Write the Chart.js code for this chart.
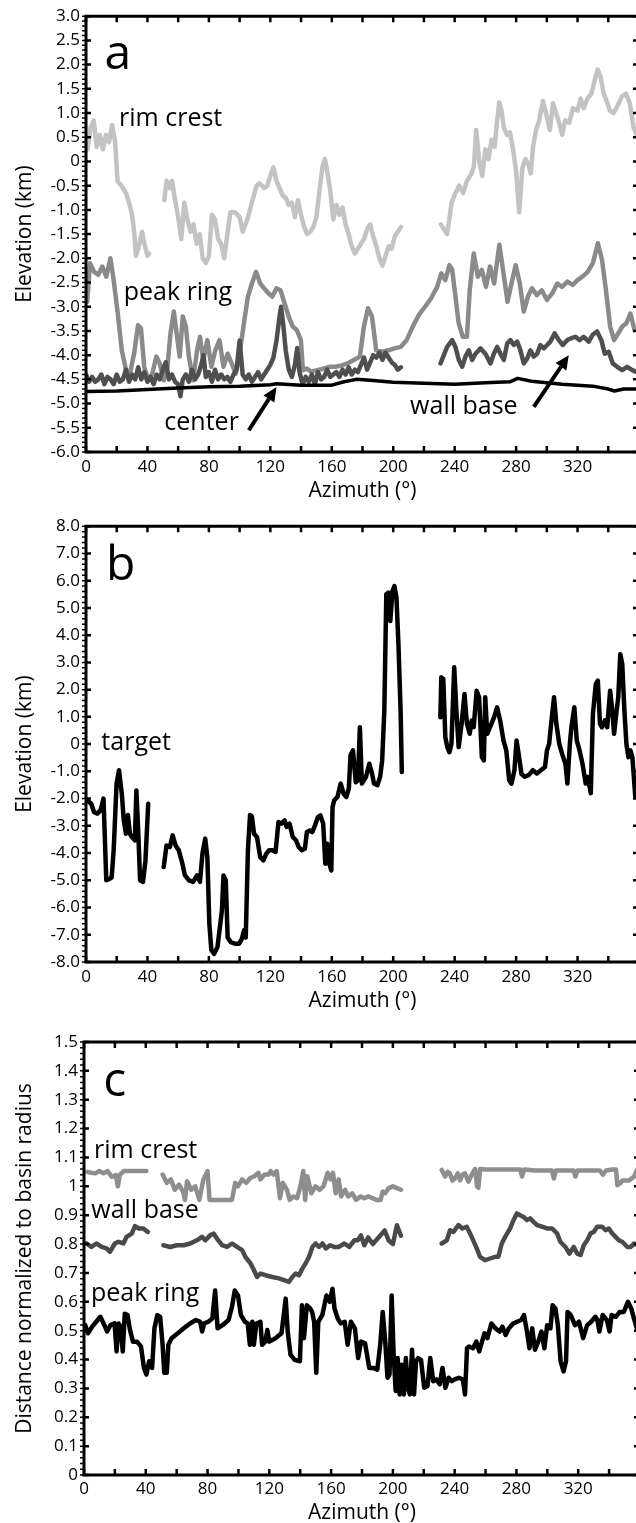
<!DOCTYPE html>
<html>
<head>
<meta charset="utf-8">
<script src="https://cdn.jsdelivr.net/npm/chart.js@4.4.1/dist/chart.umd.min.js"></script>
<style>
  html, body { margin: 0; padding: 0; background: #fff; overflow: hidden; width: 636px; height: 1523px; }
  canvas { position: absolute; left: 0; }
</style>
</head>
<body>
<canvas id="chartA" style="top:0" width="644" height="510"></canvas>
<canvas id="chartB" style="top:510px" width="644" height="510"></canvas>
<canvas id="chartC" style="top:1020px" width="644" height="510"></canvas>
<script>
// ---- panel a : elevation along the rings (km) ----
const rimAzA = [0,1,3,5,7,9,11,13,15,17,19,20.5,23,26,28,30,31.5,32.5,34,36.5,38,40,41,45,
  51,52.5,54.5,56,58,60,62,64,66,68,70,72,74,76,78,80,82,84,86,88,90,92,94,97,100,102,105,108,111,113,116,118,120,122,124,126,128,130,132,134,136,138,140,142,144,146,148,150,152,154,155.5,157,159,161,163,165,167,169,171,173,175,177,179,181,183,185,187,189,191,193,195,197,199,201,203,205,218,
  231,233,235,236.5,238,240.5,243,245.5,248,251,252.5,254,256,258,260,262,264,266,267.5,269,270.5,272,274,276,278,280,282,284,286,288,289.5,291,293,295,297.5,299,300.5,302,304,306,308,310,312,314.5,317,320,322,324,326.5,329,331,333,335,337,339.5,341,343.5,346,349,351.5,354,356.5,358.5];
const rimElevA = [0.5,0.25,0.7,0.85,0.3,0.55,0.25,0.55,0.4,0.75,0.4,-0.4,-0.5,-0.65,-0.85,-1.1,-1.5,-1.95,-1.8,-1.45,-1.7,-1.95,-1.9,null,
  -0.8,-0.4,-0.55,-0.4,-0.8,-1.15,-1.6,-0.85,-1.2,-1.45,-1.3,-1.7,-1.5,-2.0,-2.1,-1.95,-1.1,-1.2,-1.6,-1.7,-2.0,-1.5,-1.05,-1.05,-1.15,-1.45,-1.2,-0.85,-0.5,-0.45,-0.55,-0.5,-0.3,-0.12,-0.4,-0.55,-0.7,-0.75,-0.9,-0.85,-1.15,-0.8,-1.1,-1.35,-1.5,-1.45,-1.35,-1.15,-0.6,-0.1,0.05,-0.2,-0.6,-1.2,-0.9,-1.1,-0.95,-1.3,-1.5,-1.75,-1.9,-1.8,-1.7,-1.6,-1.4,-1.3,-1.55,-1.75,-2.0,-2.15,-1.95,-1.75,-1.8,-1.55,-1.45,-1.35,null,
  -1.3,-1.4,-1.5,-1.2,-0.85,-0.65,-0.5,-0.65,-0.4,-0.25,-0.1,0.65,0.0,-0.3,0.25,0.05,0.45,0.3,0.8,1.22,1.05,0.7,0.55,0.6,0.25,-0.2,-1.05,-0.15,0.05,-0.05,-0.25,0.3,0.65,0.85,1.25,1.05,0.85,0.65,1.2,1.0,0.8,0.55,0.85,0.8,1.1,1.05,1.3,1.1,1.3,1.4,1.65,1.9,1.75,1.4,1.2,1.05,1.0,1.15,1.35,1.4,1.2,0.7,0.55];

const peakAzA = [0.8,2.6,5.3,8,10.6,13.2,15.9,18,20.7,23.3,26,28.6,31.3,33.9,35.8,37.9,40.5,43.2,45.8,48,50.6,53,55,57.2,59,61,63,65,67,69.7,72.3,74.2,76.3,79,81.6,84.2,86.9,89.5,92.2,94.8,97.5,100,102.8,105.4,108,110.7,113.4,116,118.7,121.3,124,126.6,129.3,131.9,134.6,137.2,139.9,141.2,143.8,146.5,150.5,154.4,158.4,162.4,166.4,170.3,174.3,178.3,180.9,183.6,186.2,188.9,192.8,196.8,200.8,204.8,208.7,212.7,216.7,220.7,224.6,228.6,231.3,233.9,236.6,238.4,240.5,242.6,245.3,248,249.8,252.4,255.1,257.7,260.4,263,265.7,269.1,271.8,274.4,277,279.7,282.4,285,287.7,290.3,293.5,296.7,300.1,303.6,306.8,309.9,313.4,316.8,320,323.2,326.6,330,333.2,335.9,338.5,341.2,343.8,346.5,349.1,351.8,354.4,357.1];
const peakElevA = [-2.9,-2.1,-2.28,-2.34,-2.17,-2.38,-2.0,-2.45,-3.14,-3.9,-4.3,-4.38,-3.97,-3.38,-3.45,-4.24,-4.52,-4.38,-4.03,-4.17,-4.52,-4.24,-3.55,-3.1,-3.55,-4.03,-3.2,-3.41,-4.03,-4.52,-3.9,-3.62,-4.1,-3.69,-4.24,-3.9,-3.69,-4.24,-3.97,-4.17,-4.38,-3.97,-3.34,-2.79,-2.52,-2.28,-2.52,-2.62,-2.72,-2.79,-2.62,-2.66,-2.93,-3.2,-3.41,-3.48,-3.69,-4.31,-4.28,-4.34,-4.31,-4.28,-4.24,-4.24,-4.21,-4.17,-4.1,-4.03,-3.41,-3.03,-3.2,-3.9,-3.93,-3.9,-3.86,-3.83,-3.69,-3.41,-3.17,-3.0,-2.83,-2.59,-2.31,-2.45,-2.14,-2.24,-2.79,-3.34,-3.62,-3.62,-2.66,-1.9,-2.38,-2.24,-2.59,-2.17,-2.52,-1.72,-2.31,-2.9,-2.52,-2.14,-2.52,-3.1,-2.79,-2.62,-2.76,-2.66,-2.86,-2.72,-2.52,-2.59,-2.48,-2.55,-2.45,-2.38,-2.28,-2.1,-1.69,-2.03,-2.66,-3.41,-3.69,-3.55,-3.41,-3.34,-3.14,-3.48];

const wallAzA = [0,2,4,6,8,10,12,14,16,18,20,22,24,26,28,30,32,34,36,38,40,42,44,46,48,50,52,54,56,58,60,61.5,63,65,67,69,71,73,75,76.5,78,80,82,84,86,88,90,92,94,96,98,100,102,104,106,108,110,112,114,116,118,120,122,124,126,127,128.5,130,132,134,136,137.5,139,141,143,145,147,149,151,153,155,157,159,161,163,165,167,169,171,173,175,177,179,181,183,185,187,189,191,193,195,197,199,201,203,205,218,
  230.8,235.1,238.4,240.5,242.7,244.9,247,249.2,251.4,253.6,256.8,260,263.3,265.5,267.7,269.8,272,274.2,276.3,278.5,280.7,282.8,285,287.2,289.3,291.5,293.7,295.8,298,300.2,302.3,305.1,307.8,310.4,313.2,316,318.6,321.2,324,327.3,329.8,332.7,335.5,337.7,340.3,342.9,345.8,349,352.3,355.6,357.7];
const wallElevA = [-4.4,-4.55,-4.45,-4.55,-4.5,-4.4,-4.6,-4.45,-4.5,-4.6,-4.4,-4.55,-4.5,-4.3,-4.55,-4.4,-4.5,-4.25,-4.5,-4.35,-4.55,-4.45,-4.6,-4.4,-4.5,-4.3,-4.15,-4.5,-4.4,-4.55,-4.6,-4.85,-4.5,-4.4,-4.55,-4.3,-4.5,-4.4,-4.2,-4.0,-4.45,-4.35,-4.55,-4.3,-4.5,-4.4,-4.5,-4.45,-4.55,-4.4,-4.3,-3.7,-4.4,-4.5,-4.4,-4.55,-4.45,-4.35,-4.5,-4.4,-4.3,-4.2,-4.05,-3.7,-3.2,-3.0,-3.4,-3.9,-4.3,-4.45,-4.2,-3.85,-4.35,-4.6,-4.45,-4.55,-4.4,-4.6,-4.35,-4.5,-4.45,-4.3,-4.45,-4.4,-4.35,-4.45,-4.3,-4.4,-4.25,-4.4,-4.3,-4.35,-4.2,-4.05,-4.3,-4.15,-4.0,-4.05,-3.95,-4.1,-3.95,-4.05,-4.15,-4.2,-4.3,-4.25,null,
  -4.17,-3.83,-3.69,-3.83,-4.1,-4.24,-4.03,-3.9,-4.1,-3.97,-3.86,-3.97,-4.17,-3.97,-3.83,-3.97,-4.1,-3.76,-3.69,-3.79,-3.72,-3.9,-4.17,-4.07,-3.9,-4.03,-3.97,-3.79,-3.86,-3.79,-3.72,-3.55,-3.69,-3.79,-3.69,-3.65,-3.62,-3.69,-3.62,-3.72,-3.58,-3.51,-3.69,-3.97,-3.93,-4.17,-4.24,-4.31,-4.24,-4.31,-4.34];

const centerAzA = [0,20,40,60,80,100,120,124,140,160,168,176,185,200,220,240,260,276,281,290,310,330,340,344,350,358];
const centerElevA = [-4.75,-4.74,-4.71,-4.68,-4.65,-4.64,-4.61,-4.59,-4.62,-4.62,-4.55,-4.5,-4.52,-4.56,-4.58,-4.6,-4.57,-4.55,-4.48,-4.54,-4.6,-4.64,-4.7,-4.74,-4.7,-4.7];

// ---- panel b : target elevation (km) ----
const targetAzB = [0.8,3.4,5.3,7.4,9.5,11.4,13.2,15.4,16.7,18,19.9,21.5,23.3,24.6,26,27.3,28.6,29.9,31.8,32.8,34,35.2,37.1,38.7,40.5,45,
  50.6,52.4,54.6,56.4,58.3,60.4,62.5,64.4,67,69.7,72.3,74.2,75.8,77.6,79,80.3,81.6,83.4,85.6,86.9,88.5,89.5,91,92.2,94.3,97,99.6,101.5,102.8,104,105.4,106.8,108,109.4,111.3,113.4,115.5,117.4,119.2,121.3,123.4,125.3,127.2,129.3,130.6,132.5,134.6,136.7,138.5,140.4,142.5,143.8,145.7,147.3,149.1,151,152.6,154.4,155.8,157,158.4,159.7,160.5,161.6,163.7,165.8,167.7,169.5,171.1,172.2,173.8,175.6,177,178.3,179.6,182.3,184.4,186.2,187.5,189.7,191.5,192.8,194.2,195.5,196.8,198.1,199.5,200.8,202.1,203.4,204.8,205.6,218,
  230.7,231.3,232.6,233.9,235.2,236.6,237.9,239.7,241,242.6,244.5,246.4,248,249.8,251.1,252.4,254.3,255.9,257.7,259,259.9,261.2,263,265.7,267.6,269.6,271.8,273.6,275.5,277,278.9,280.3,281.6,283.5,285.6,288.2,290.9,293.5,296.1,298.8,300.1,301.5,302.8,304.7,306.2,308.1,309.9,312.1,313.4,315,316,317.9,319.5,321.3,323.2,325.3,326.6,328.6,330,331.9,333.2,334.6,335.9,337.8,339.3,341.2,342.6,343.8,345.2,346.5,347.8,349.1,350.5,351.8,353.1,354.4,355.7,357.6];
const targetElevB = [-2.06,-2.19,-2.5,-2.55,-2.43,-2.0,-5.0,-4.94,-4.9,-3.9,-1.45,-0.96,-1.82,-2.8,-3.29,-2.6,-3.29,-3.41,-3.53,-1.7,-3.2,-5.0,-5.06,-4.27,-2.19,null,
  -4.51,-3.72,-3.78,-3.35,-3.72,-3.9,-4.33,-4.82,-5.0,-5.06,-4.82,-5.06,-4.02,-3.47,-4.15,-6.6,-7.56,-7.7,-7.45,-6.84,-6.1,-4.82,-5.0,-7.1,-7.27,-7.33,-7.33,-7.15,-6.84,-7.1,-3.9,-2.6,-2.66,-3.29,-3.41,-4.15,-4.27,-4.02,-3.9,-3.9,-3.96,-2.86,-2.92,-2.8,-3.04,-2.92,-3.41,-3.53,-3.78,-3.9,-3.84,-3.23,-3.17,-3.23,-2.98,-2.68,-2.62,-2.92,-4.39,-3.66,-4.39,-4.64,-2.31,-2.06,-1.94,-1.45,-1.82,-1.94,-1.63,-0.41,-0.23,-1.4,-1.33,0.62,-1.45,-1.2,-0.72,-1.08,-1.45,-1.51,-1.2,-0.6,1.23,5.5,5.56,4.52,5.62,5.8,5.38,3.67,1.23,-1.02,null,
  0.99,2.45,2.39,0.26,-0.11,-0.3,0.01,2.82,1.35,-0.11,0.74,1.84,0.74,0.38,0.87,0.62,1.96,1.72,-0.48,-0.6,1.72,0.38,0.62,0.99,1.35,0.87,0.13,-0.23,-1.33,-1.45,-0.96,0.13,-0.35,-1.1,-1.2,-1.14,-0.96,-1.08,-0.96,-0.84,-0.23,0.01,0.74,1.72,0.74,0.01,-0.35,-0.72,-1.45,0.01,0.62,1.35,0.13,-0.23,-0.72,-1.45,-1.2,-1.8,1.11,2.21,2.33,0.74,0.62,0.87,0.62,1.96,1.23,0.38,1.11,1.72,3.3,2.94,1.23,0.01,-0.48,-0.23,-0.48,-1.94];

// ---- panel c : distance normalized to basin radius ----
const rimAzC = [2.1,4.7,7.4,10,12.7,15.3,17.9,20.6,21.9,23.2,25.9,32.4,40.4,45,
  50.9,53.6,56.2,58.8,61.5,64.1,65.4,66.7,69.4,72,74.7,77.3,80,81.3,83.9,87.8,91.8,95.8,97.9,99.7,102.4,105,107.6,110.3,112.9,114.2,116.9,119.5,120.8,122.7,124.8,126.9,128.7,131.4,133.2,135.5,138,140.1,142,143.2,144.6,147.2,149.8,152.5,155.1,157.8,159.6,161.2,163,164.9,166.5,169.1,171,173.6,176.2,178.9,181.5,184.1,186.8,189.4,192.1,193.4,195,197.3,200,202.6,205.2,218,
  231.6,233.8,235.5,236.9,238.5,240.2,242,243.5,245,246.7,248.9,251,253.2,254.5,255.4,256.5,260,266,272,278,282.5,283.6,285,292,300,303,304.2,305.5,312,317,318.2,319.5,326,334,336,338,342,344.5,345.3,347,348.6,352.9,356.2,358.4];
const rimDistC = [1.05,1.047,1.045,1.053,1.045,1.053,1.033,1.039,1.0,1.04,1.053,1.053,1.053,null,
  1.041,1.012,1.024,0.988,1.006,0.982,0.953,1.018,0.988,1.0,0.953,1.024,1.053,0.953,0.953,0.953,0.953,0.953,1.012,1.0,1.024,1.012,1.029,1.035,1.047,1.024,1.041,1.041,1.053,1.041,1.053,0.959,1.012,0.988,0.953,0.965,0.959,1.0,1.053,0.953,1.035,0.976,1.0,0.988,1.0,1.047,1.024,1.047,0.976,1.024,0.965,0.988,0.965,0.976,0.953,0.965,0.959,0.965,0.959,0.953,0.953,0.982,0.976,0.994,1.0,0.994,0.988,null,
  1.057,1.034,1.05,1.045,1.02,1.027,1.045,1.021,1.04,1.045,1.016,1.04,1.06,1.0,0.995,1.06,1.058,1.058,1.058,1.058,1.058,1.034,1.058,1.055,1.055,1.055,1.027,1.055,1.055,1.055,1.034,1.055,1.055,1.055,1.04,1.055,1.058,1.058,1.004,1.01,1.02,1.02,1.034,1.06];

const wallAzC = [1.6,4.8,8,11.4,14.6,16.8,20,22.3,25.5,27.6,30.9,33,35.5,38.5,41.3,46,
  51.4,55.8,60,64.5,68.8,73.1,76.4,78.6,81.8,84,86.1,89.4,92.6,95.9,99.1,102.4,104.5,107.8,110,112.1,114.3,117.5,121.9,126.2,129.5,132.7,134.9,137.1,139.2,141.4,143.5,145.7,147.9,150,152.2,154.4,156.6,159.3,162,165,168.5,171.8,175,177.2,179.3,181.5,184,187,190.7,194.7,197.3,200,202.6,205.2,218,
  231.6,234.9,237,239.2,242.4,245,247.8,251,254.3,256.4,259.7,262.9,266.2,268.3,270.5,272.7,275.9,278.1,280.3,282.4,284.6,286.8,288.9,291.1,293.3,296.5,299.8,303,306.3,308.4,311.7,314.3,317.1,319.3,321.5,323.6,325.8,328,330,332.3,335.5,337.7,339.8,342,344.2,346.3,348.5,351.8,354,356.1,358.3];
const wallDistC = [0.802,0.79,0.802,0.79,0.785,0.773,0.802,0.808,0.802,0.825,0.836,0.862,0.854,0.854,0.842,null,
  0.796,0.79,0.796,0.796,0.802,0.813,0.825,0.813,0.831,0.836,0.819,0.796,0.79,0.802,0.79,0.779,0.756,0.733,0.71,0.686,0.698,0.692,0.686,0.681,0.675,0.669,0.686,0.698,0.692,0.715,0.733,0.756,0.79,0.802,0.79,0.802,0.785,0.796,0.79,0.79,0.802,0.79,0.813,0.813,0.83,0.796,0.823,0.8,0.823,0.847,0.812,0.8,0.865,0.829,null,
  0.802,0.813,0.848,0.842,0.866,0.854,0.86,0.825,0.785,0.756,0.744,0.75,0.756,0.756,0.802,0.825,0.854,0.883,0.906,0.9,0.894,0.883,0.889,0.877,0.866,0.86,0.854,0.854,0.837,0.808,0.79,0.767,0.79,0.767,0.762,0.796,0.813,0.837,0.842,0.86,0.86,0.848,0.854,0.837,0.825,0.813,0.808,0.79,0.79,0.802,0.796];

const peakAzC = [0.8,2.6,5.3,7.9,10.6,13.2,15,17.1,19.8,21.1,22.4,23.7,25.1,26.4,28.2,29.8,31.7,34.3,36.9,38.8,40.4,42.2,44.1,45.6,47.5,49.3,50.9,52,53.6,54.6,56.7,60.7,64.6,68.6,72.5,75.2,76.5,77.8,80.5,83.1,84.9,86.5,89.7,93.6,95.8,97.6,99.7,101.6,104.2,106,107.4,109,110,111.6,114.2,115.3,117.4,118.7,120,124,127.9,130.6,131.9,133.7,136.4,139.8,141.1,142.4,144.3,146.4,147.7,149,150.4,151.7,154.3,157,159.1,160.9,162.2,164.3,166.2,168.8,170.7,172.8,175.4,177.5,179.4,182,184.7,187.3,189.9,191.8,193.4,195.2,196.5,197.8,199.2,200.5,201.8,203.1,204.4,205.8,207.1,208.4,209.7,211,212.4,213.7,215,216.3,218.2,220.3,222.4,224.2,226.1,228.2,230.3,232.1,234,236.1,238.2,240,242.7,245.3,246.7,248,249.3,251.9,254,255.9,257.7,259.3,261.2,263.8,266.4,269.1,270.9,273,275.1,277.8,280.4,283.1,284.9,286.8,288.4,290.2,292,294.1,296.2,298.1,299.9,302,303.4,305.2,306.8,308.6,310.5,312.1,313.1,315.2,317.9,320.5,323.2,325.8,328.4,331.1,332.4,333.7,335.8,338.5,340.3,341.6,344.3,346.9,349.5,352.2,354.3,356.1,358];
const peakDistC = [0.519,0.491,0.514,0.531,0.548,0.519,0.497,0.519,0.525,0.428,0.525,0.514,0.428,0.559,0.554,0.502,0.462,0.462,0.445,0.371,0.348,0.394,0.371,0.508,0.554,0.548,0.451,0.354,0.354,0.451,0.474,0.491,0.508,0.525,0.537,0.531,0.497,0.525,0.531,0.542,0.639,0.508,0.519,0.537,0.582,0.639,0.622,0.554,0.531,0.525,0.451,0.531,0.451,0.525,0.531,0.451,0.462,0.502,0.462,0.474,0.491,0.611,0.497,0.417,0.399,0.394,0.588,0.474,0.588,0.577,0.565,0.531,0.354,0.531,0.554,0.622,0.6,0.645,0.577,0.542,0.525,0.531,0.451,0.531,0.508,0.405,0.462,0.456,0.371,0.371,0.365,0.451,0.565,0.451,0.337,0.348,0.622,0.417,0.291,0.405,0.279,0.382,0.279,0.405,0.302,0.279,0.434,0.279,0.394,0.405,0.399,0.302,0.308,0.405,0.325,0.331,0.314,0.371,0.302,0.337,0.325,0.331,0.337,0.331,0.279,0.439,0.445,0.439,0.462,0.428,0.462,0.491,0.474,0.525,0.508,0.497,0.514,0.485,0.508,0.525,0.531,0.537,0.554,0.497,0.439,0.508,0.434,0.462,0.497,0.439,0.519,0.508,0.588,0.577,0.519,0.394,0.359,0.394,0.565,0.554,0.519,0.531,0.474,0.519,0.531,0.548,0.537,0.497,0.554,0.537,0.497,0.554,0.548,0.565,0.565,0.6,0.577,0.542,0.508];

const FONT = "'Open Sans', 'DejaVu Sans', sans-serif";
Chart.defaults.font.family = FONT;
Chart.defaults.color = '#000';

function pts(az, vals) {
  return az.map((a, i) => ({ x: a, y: vals[i] }));
}

// axis frame with inward ticks, as in the original figure
const framePlugin = {
  id: 'frame',
  afterDatasetsDraw(chart, args, opts) {
    const { ctx, chartArea: { left, right, top, bottom }, scales: { x, y } } = chart;
    ctx.save();
    ctx.strokeStyle = '#000';
    ctx.lineWidth = 3;
    ctx.beginPath();
    ctx.moveTo(left - 1.5, top); ctx.lineTo(right + 4, top);
    ctx.moveTo(left, top); ctx.lineTo(left, bottom);
    ctx.moveTo(left - 1.5, bottom); ctx.lineTo(right + 4, bottom);
    ctx.stroke();
    ctx.lineWidth = 2.5;
    ctx.beginPath();
    x.ticks.forEach(t => {
      const px = x.getPixelForValue(t.value);
      ctx.moveTo(px, top); ctx.lineTo(px, top + 6);
      ctx.moveTo(px, bottom); ctx.lineTo(px, bottom - 6);
    });
    y.ticks.forEach(t => {
      const py = y.getPixelForValue(t.value);
      ctx.moveTo(left, py); ctx.lineTo(left + 5, py);
      ctx.moveTo(right, py); ctx.lineTo(right - 6, py);
    });
    ctx.stroke();
    // small outer minor ticks on the left axis
    if (opts.minor) {
      ctx.lineWidth = 1.5;
      ctx.beginPath();
      for (let v = y.min; v <= y.max + 1e-9; v += opts.minor) {
        const py = y.getPixelForValue(v);
        ctx.moveTo(left - 4, py); ctx.lineTo(left - 1, py);
      }
      ctx.stroke();
    }
    ctx.restore();
  }
};

// text labels and arrows placed in data coordinates
const marksPlugin = {
  id: 'marks',
  afterDraw(chart, args, opts) {
    const { ctx, scales: { x, y } } = chart;
    ctx.save();
    ctx.fillStyle = '#000';
    ctx.strokeStyle = '#000';
    ctx.textAlign = 'left';
    ctx.textBaseline = 'alphabetic';
    (opts.labels || []).forEach(l => {
      ctx.font = l.size + 'px ' + FONT;
      ctx.fillText(l.text, x.getPixelForValue(l.x), y.getPixelForValue(l.y));
    });
    (opts.arrows || []).forEach(a => {
      const x0 = x.getPixelForValue(a.x0), y0 = y.getPixelForValue(a.y0);
      const x1 = x.getPixelForValue(a.x1), y1 = y.getPixelForValue(a.y1);
      const ang = Math.atan2(y1 - y0, x1 - x0);
      const head = 14, half = 6.5;
      const bx = x1 - head * Math.cos(ang), by = y1 - head * Math.sin(ang);
      ctx.lineWidth = 4;
      ctx.beginPath(); ctx.moveTo(x0, y0); ctx.lineTo(bx, by); ctx.stroke();
      ctx.beginPath();
      ctx.moveTo(x1, y1);
      ctx.lineTo(bx + half * Math.sin(ang), by - half * Math.cos(ang));
      ctx.lineTo(bx - half * Math.sin(ang), by + half * Math.cos(ang));
      ctx.closePath(); ctx.fill();
    });
    ctx.restore();
  }
};

function line(label, data, color, width) {
  return { label, data, borderColor: color, borderWidth: width, pointRadius: 0, fill: false, spanGaps: false, tension: 0, borderJoinStyle: 'round', borderCapStyle: 'round' };
}

function buildOptions(c) {
  return {
    responsive: false,
    animation: false,
    devicePixelRatio: 1,
    layout: { padding: { top: c.padTop, right: 4, left: 0, bottom: 0 } },
    plugins: {
      legend: { display: false },
      tooltip: { enabled: false },
      frame: { minor: c.minor },
      marks: c.marks
    },
    scales: {
      x: {
        type: 'linear', min: 0, max: 360,
        afterFit(s) { s.height = c.xHeight; },
        grid: { display: false, drawTicks: false },
        border: { display: false },
        ticks: {
          stepSize: 20, autoSkip: false, maxRotation: 0, padding: c.xPad,
          color: '#000', font: { size: 17 },
          callback: v => (v % 40 === 0 && v < 360) ? String(v) : ''
        },
        title: { display: true, text: 'Azimuth (°)', color: '#000', font: { size: 21 }, padding: { top: 0, bottom: c.titlePad } }
      },
      y: {
        type: 'linear', min: c.yMin, max: c.yMax,
        afterFit(s) { s.width = c.yWidth; },
        grid: { display: false, drawTicks: false },
        border: { display: false },
        ticks: { stepSize: c.yStep, autoSkip: false, padding: 6, color: '#000', font: { size: 17 }, callback: c.fmt },
        title: { display: true, text: c.yTitle, color: '#000', font: { size: 21 }, padding: { top: 12, bottom: 0 } }
      }
    }
  };
}

const fmtKm = v => Math.abs(v) < 1e-9 ? '0' : v.toFixed(1);
const fmtDist = v => String(Math.round(v * 10) / 10);

new Chart(document.getElementById('chartA'), {
  type: 'line',
  data: {
    datasets: [
      line('center', pts(centerAzA, centerElevA), '#000000', 3.5),
      line('wall base', pts(wallAzA, wallElevA), '#4f4f4f', 4.5),
      line('peak ring', pts(peakAzA, peakElevA), '#8a8a8a', 4.5),
      line('rim crest', pts(rimAzA, rimElevA), '#c3c3c3', 4.5)
    ]
  },
  options: buildOptions({
    padTop: 15, xHeight: 58, xPad: 5, titlePad: 6, yWidth: 86,
    yMin: -6, yMax: 3, yStep: 0.5, minor: 0.1, fmt: fmtKm, yTitle: 'Elevation (km)',
    marks: {
      labels: [
        { text: 'a', x: 12, y: 1.9, size: 48 },
        { text: 'rim crest', x: 21.5, y: 0.73, size: 25 },
        { text: 'peak ring', x: 24.6, y: -2.86, size: 25 },
        { text: 'center', x: 51, y: -5.55, size: 25 },
        { text: 'wall base', x: 211, y: -5.22, size: 25 }
      ],
      arrows: [
        { x0: 106, y0: -5.55, x1: 124, y1: -4.66 },
        { x0: 291.5, y0: -5.07, x1: 314.3, y1: -4.0 }
      ]
    }
  }),
  plugins: [framePlugin, marksPlugin]
});

new Chart(document.getElementById('chartB'), {
  type: 'line',
  data: {
    datasets: [
      line('target', pts(targetAzB, targetElevB), '#000000', 4.5)
    ]
  },
  options: buildOptions({
    padTop: 14, xHeight: 58, xPad: 5, titlePad: 6, yWidth: 86,
    yMin: -8, yMax: 8, yStep: 1, minor: 0.2, fmt: fmtKm, yTitle: 'Elevation (km)',
    marks: {
      labels: [
        { text: 'b', x: 13, y: 6.02, size: 48 },
        { text: 'target', x: 10, y: -0.21, size: 25 }
      ]
    }
  }),
  plugins: [framePlugin, marksPlugin]
});

new Chart(document.getElementById('chartC'), {
  type: 'line',
  data: {
    datasets: [
      line('peak ring', pts(peakAzC, peakDistC), '#000000', 4.5),
      line('wall base', pts(wallAzC, wallDistC), '#4a4a4a', 4.5),
      line('rim crest', pts(rimAzC, rimDistC), '#8e8e8e', 4.5)
    ]
  },
  options: buildOptions({
    padTop: 22, xHeight: 55, xPad: 4, titlePad: 4, yWidth: 84,
    yMin: 0, yMax: 1.5, yStep: 0.1, minor: 0.02, fmt: fmtDist, yTitle: 'Distance normalized to basin radius',
    marks: {
      labels: [
        { text: 'c', x: 12.4, y: 1.312, size: 48 },
        { text: 'rim crest', x: 6.5, y: 1.098, size: 25 },
        { text: 'wall base', x: 4.7, y: 0.889, size: 25 },
        { text: 'peak ring', x: 4.5, y: 0.603, size: 25 }
      ]
    }
  }),
  plugins: [framePlugin, marksPlugin]
});
</script>
</body>
</html>
